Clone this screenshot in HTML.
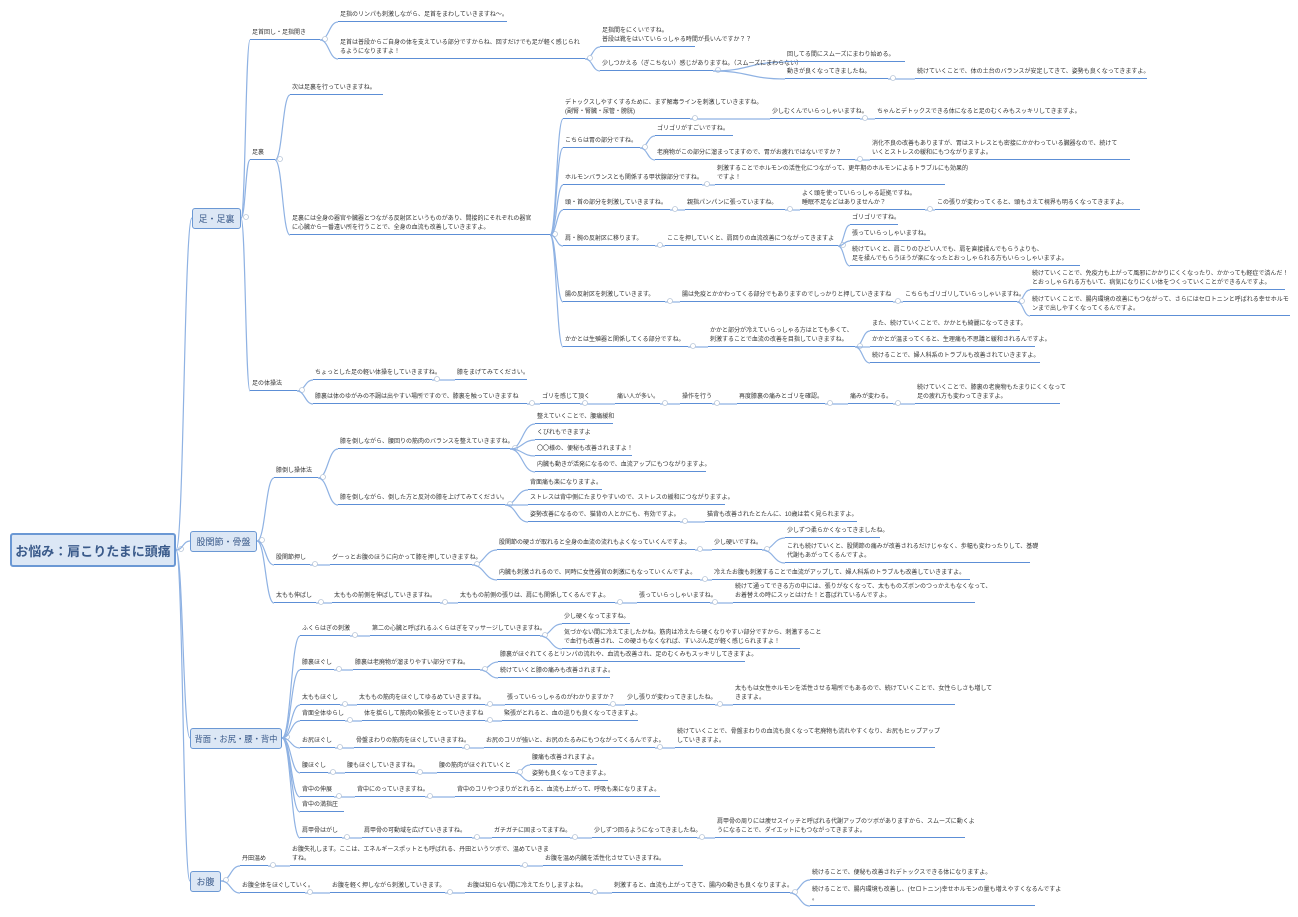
<!DOCTYPE html>
<html><head><meta charset="utf-8">
<style>
html,body{margin:0;padding:0;background:#fff;}
#c{position:relative;width:1298px;height:917px;overflow:hidden;font-family:"Liberation Sans","Noto Sans CJK JP",sans-serif;color:#333;}
.n{position:absolute;transform:translateY(-100%);font-size:6px;line-height:9px;padding:0 0 1px 2px;border-bottom:1.6px solid #5d8fd6;white-space:nowrap;box-sizing:border-box;}
.b{position:absolute;background:#dce7f5;border:1.5px solid #6b98d4;border-radius:3px;color:#3a5a8a;font-size:9px;display:flex;align-items:center;justify-content:center;box-sizing:border-box;white-space:nowrap;}
svg{position:absolute;left:0;top:0;}
</style></head><body><div id="c">
<svg id="s" width="1298" height="917"></svg>
<div class="b" style="left:10px;top:533px;width:166px;height:34px;font-size:13px;font-weight:bold;border-width:2px;">お悩み：肩こりたまに頭痛</div>
<div class="b" style="left:192px;top:208px;width:49px;height:21px;">足・足裏</div>
<div class="b" style="left:190px;top:531px;width:67px;height:21px;">股関節・骨盤</div>
<div class="b" style="left:190px;top:728px;width:92px;height:21px;font-size:8.3px;">背面・お尻・腰・背中</div>
<div class="b" style="left:190px;top:871px;width:31px;height:21px;">お腹</div>

<div class="n" style="left:250px;top:40px;width:70px">足首回し・足指開き</div>
<div class="n" style="left:250px;top:160px;width:25px">足裏</div>
<div class="n" style="left:250px;top:391px;width:47px">足の体操法</div>
<div class="n" style="left:338px;top:22px;width:169px">足指のリンパも刺激しながら、足首をまわしていきますね〜。</div>
<div class="n" style="left:338px;top:59px;width:247px">足首は普段からご自身の体を支えている部分ですからね、回すだけでも足が軽く感じられ<br>るようになりますよ！</div>
<div class="n" style="left:600px;top:47px;width:95px">足指間をにくいですね。<br>普段は靴をはいていらっしゃる時間が長いんですか？？</div>
<div class="n" style="left:600px;top:71px;width:113px">少しつかえる（ぎこちない）感じがありますね。（スムーズにまわらない）</div>
<div class="n" style="left:785px;top:62px;width:120px">回してる間にスムーズにまわり始める。</div>
<div class="n" style="left:785px;top:79px;width:103px">動きが良くなってきましたね。</div>
<div class="n" style="left:915px;top:79px;width:232px">続けていくことで、体の土台のバランスが安定してきて、姿勢も良くなってきますよ。</div>

<div class="n" style="left:290px;top:95px;width:93px">次は足裏を行っていきますね。</div>
<div class="n" style="left:290px;top:235px;width:260px">足裏には全身の器官や臓器とつながる反射区というものがあり、間接的にそれぞれの器官<br>に心臓から一番遠い所を行うことで、全身の血流も改善していきますよ。</div>
<div class="n" style="left:563px;top:119px;width:127px">デトックスしやすくするために、まず解毒ラインを刺激していきますね。<br>(副腎・腎臓・尿管・膀胱)</div>
<div class="n" style="left:770px;top:119px;width:90px">少しむくんでいらっしゃいますね。</div>
<div class="n" style="left:875px;top:119px;width:195px">ちゃんとデトックスできる体になると足のむくみもスッキリしてきますよ。</div>
<div class="n" style="left:563px;top:148px;width:77px">こちらは胃の部分ですね。</div>
<div class="n" style="left:655px;top:136px;width:78px">ゴリゴリがすごいですね。</div>
<div class="n" style="left:655px;top:160px;width:200px">老廃物がこの部分に溜まってますので、胃がお疲れではないですか？</div>
<div class="n" style="left:870px;top:160px;width:260px">消化不良の改善もありますが、胃はストレスとも密接にかかわっている臓器なので、続けて<br>いくとストレスの緩和にもつながりますよ。</div>
<div class="n" style="left:563px;top:185px;width:139px">ホルモンバランスとも関係する甲状腺部分ですね。</div>
<div class="n" style="left:715px;top:185px;width:230px">刺激することでホルモンの活性化につながって、更年期のホルモンによるトラブルにも効果的<br>ですよ！</div>
<div class="n" style="left:563px;top:210px;width:107px">頭・首の部分を刺激していきますね。</div>
<div class="n" style="left:685px;top:210px;width:100px">親指パンパンに張っていますね。</div>
<div class="n" style="left:800px;top:210px;width:125px">よく頭を使っていらっしゃる証拠ですね。<br>睡眠不足などはありませんか？</div>
<div class="n" style="left:935px;top:210px;width:205px">この張りが変わってくると、頭もさえて視界も明るくなってきますよ。</div>
<div class="n" style="left:563px;top:246px;width:92px">肩・腕の反射区に移ります。</div>
<div class="n" style="left:665px;top:246px;width:173px">ここを押していくと、肩回りの血流改善につながってきますよ</div>
<div class="n" style="left:850px;top:225px;width:48px">ゴリゴリですね。</div>
<div class="n" style="left:850px;top:241px;width:80px">張っていらっしゃいますね。</div>
<div class="n" style="left:850px;top:266px;width:230px">続けていくと、肩こりのひどい人でも、肩を直接揉んでもらうよりも、<br>足を揉んでもらうほうが楽になったとおっしゃられる方もいらっしゃいますよ。</div>
<div class="n" style="left:563px;top:302px;width:102px">腸の反射区を刺激していきます。</div>
<div class="n" style="left:680px;top:302px;width:213px">腸は免疫とかかわってくる部分でもありますのでしっかりと押していきますね</div>
<div class="n" style="left:903px;top:302px;width:114px">こちらもゴリゴリしていらっしゃいますね。</div>
<div class="n" style="left:1030px;top:290px;width:255px">続けていくことで、免疫力も上がって風邪にかかりにくくなったり、かかっても軽症で済んだ！<br>とおっしゃられる方もいて、病気になりにくい体をつくっていくことができるんですよ。</div>
<div class="n" style="left:1030px;top:316px;width:260px">続けていくことで、腸内環境の改善にもつながって、さらにはセロトニンと呼ばれる幸せホルモ<br>ンまで出しやすくなってくるんですよ。</div>
<div class="n" style="left:563px;top:347px;width:125px">かかとは生殖器と関係してくる部分ですね。</div>
<div class="n" style="left:708px;top:347px;width:147px">かかと部分が冷えていらっしゃる方はとても多くて、<br>刺激することで血流の改善を目指していきますね。</div>
<div class="n" style="left:870px;top:331px;width:150px">また、続けていくことで、かかとも綺麗になってきます。</div>
<div class="n" style="left:870px;top:347px;width:165px">かかとが温まってくると、生理痛も不思議と緩和されるんですよ。</div>
<div class="n" style="left:870px;top:363px;width:170px">続けることで、婦人科系のトラブルも改善されていきますよ。</div>

<div class="n" style="left:313px;top:380px;width:119px">ちょっとした足の軽い体操をしていきますね。</div>
<div class="n" style="left:455px;top:380px;width:72px">膝をまげてみてください。</div>
<div class="n" style="left:313px;top:404px;width:214px">膝裏は体のゆがみの不調は出やすい場所ですので、膝裏を触っていきますね</div>
<div class="n" style="left:540px;top:404px;width:40px">ゴリを感じて頂く</div>
<div class="n" style="left:615px;top:404px;width:45px">痛い人が多い。</div>
<div class="n" style="left:680px;top:404px;width:32px">操作を行う</div>
<div class="n" style="left:737px;top:404px;width:88px">再度膝裏の痛みとゴリを確認。</div>
<div class="n" style="left:848px;top:404px;width:45px">痛みが変わる。</div>
<div class="n" style="left:915px;top:404px;width:145px">続けていくことで、膝裏の老廃物もたまりにくくなって<br>足の疲れ方も変わってきますよ。</div>

<div class="n" style="left:274px;top:478px;width:44px">膝倒し操体法</div>
<div class="n" style="left:274px;top:565px;width:36px">股関節押し</div>
<div class="n" style="left:274px;top:603px;width:42px">太もも伸ばし</div>
<div class="n" style="left:338px;top:449px;width:172px">膝を倒しながら、腰回りの筋肉のバランスを整えていきますね。</div>
<div class="n" style="left:535px;top:424px;width:78px">整えていくことで、腰痛緩和</div>
<div class="n" style="left:535px;top:440px;width:50px">くびれもできますよ</div>
<div class="n" style="left:535px;top:456px;width:97px">〇〇様の、便秘も改善されますよ！</div>
<div class="n" style="left:535px;top:472px;width:171px">内臓も動きが活発になるので、血流アップにもつながりますよ。</div>
<div class="n" style="left:338px;top:505px;width:167px">膝を倒しながら、倒した方と反対の膝を上げてみてください。</div>
<div class="n" style="left:528px;top:490px;width:74px">背面痛も楽になりますよ。</div>
<div class="n" style="left:528px;top:505px;width:197px">ストレスは背中側にたまりやすいので、ストレスの緩和につながりますよ。</div>
<div class="n" style="left:528px;top:522px;width:152px">姿勢改善になるので、猫背の人とかにも、有効ですよ。</div>
<div class="n" style="left:705px;top:522px;width:152px">猫背も改善されたとたんに、10歳は若く見られますよ。</div>
<div class="n" style="left:330px;top:565px;width:142px">グーっとお腹のほうに向かって膝を押していきますね。</div>
<div class="n" style="left:497px;top:550px;width:198px">股関節の硬さが取れると全身の血流の流れもよくなっていくんですよ。</div>
<div class="n" style="left:712px;top:550px;width:50px">少し硬いですね。</div>
<div class="n" style="left:785px;top:538px;width:95px">少しずつ柔らかくなってきましたね。</div>
<div class="n" style="left:785px;top:563px;width:245px">これも続けていくと、股関節の痛みが改善されるだけじゃなく、歩幅も変わったりして、基礎<br>代謝もあがってくるんですよ。</div>
<div class="n" style="left:497px;top:580px;width:203px">内臓も刺激されるので、同時に女性器官の刺激にもなっていくんですよ。</div>
<div class="n" style="left:712px;top:580px;width:258px">冷えたお腹も刺激することで血流がアップして、婦人科系のトラブルも改善していきますよ。</div>
<div class="n" style="left:332px;top:603px;width:108px">太ももの前側を伸ばしていきますね。</div>
<div class="n" style="left:458px;top:603px;width:157px">太ももの前側の張りは、肩にも関係してくるんですよ。</div>
<div class="n" style="left:637px;top:603px;width:73px">張っていらっしゃいますね。</div>
<div class="n" style="left:733px;top:603px;width:242px">続けて通ってできる方の中には、張りがなくなって、太もものズボンのつっかえもなくなって、<br>お着替えの時にスッとはけた！と喜ばれているんですよ。</div>

<div class="n" style="left:300px;top:636px;width:50px">ふくらはぎの刺激</div>
<div class="n" style="left:370px;top:636px;width:170px">第二の心臓と呼ばれるふくらはぎをマッサージしていきますね。</div>
<div class="n" style="left:562px;top:624px;width:68px">少し硬くなってますね。</div>
<div class="n" style="left:562px;top:649px;width:238px">気づかない間に冷えてましたかね。筋肉は冷えたら硬くなりやすい部分ですから、刺激すること<br>で血行も改善され、この硬さもなくなれば、すいぶん足が軽く感じられますよ！</div>
<div class="n" style="left:300px;top:670px;width:34px">膝裏ほぐし</div>
<div class="n" style="left:353px;top:670px;width:127px">膝裏は老廃物が溜まりやすい部分ですね。</div>
<div class="n" style="left:498px;top:662px;width:247px">膝裏がほぐれてくるとリンパの流れや、血流も改善され、足のむくみもスッキリしてきますよ。</div>
<div class="n" style="left:498px;top:678px;width:112px">続けていくと膝の痛みも改善されますよ。</div>
<div class="n" style="left:300px;top:705px;width:40px">太ももほぐし</div>
<div class="n" style="left:357px;top:705px;width:128px">太ももの筋肉をほぐしてゆるめていきますね。</div>
<div class="n" style="left:505px;top:705px;width:103px">張っていらっしゃるのがわかりますか？</div>
<div class="n" style="left:625px;top:705px;width:90px">少し張りが変わってきましたね。</div>
<div class="n" style="left:733px;top:705px;width:222px">太ももは女性ホルモンを活性させる場所でもあるので、続けていくことで、女性らしさも増して<br>きますよ。</div>
<div class="n" style="left:300px;top:721px;width:45px">背面全体ゆらし</div>
<div class="n" style="left:362px;top:721px;width:123px">体を揺らして筋肉の緊張をとっていきますね</div>
<div class="n" style="left:502px;top:721px;width:136px">緊張がとれると、血の巡りも良くなってきますよ。</div>
<div class="n" style="left:300px;top:748px;width:35px">お尻ほぐし</div>
<div class="n" style="left:354px;top:748px;width:108px">骨盤まわりの筋肉をほぐしていきますね。</div>
<div class="n" style="left:484px;top:748px;width:171px">お尻のコリが強いと、お尻のたるみにもつながってくるんですよ。</div>
<div class="n" style="left:675px;top:748px;width:260px">続けていくことで、骨盤まわりの血流も良くなって老廃物も流れやすくなり、お尻もヒップアップ<br>していきますよ。</div>
<div class="n" style="left:300px;top:773px;width:28px">腰ほぐし</div>
<div class="n" style="left:345px;top:773px;width:70px">腰もほぐしていきますね。</div>
<div class="n" style="left:437px;top:773px;width:78px">腰の筋肉がほぐれていくと</div>
<div class="n" style="left:530px;top:765px;width:67px">腰痛も改善されますよ。</div>
<div class="n" style="left:530px;top:781px;width:78px">姿勢も良くなってきますよ。</div>
<div class="n" style="left:300px;top:797px;width:34px">背中の伸展</div>
<div class="n" style="left:355px;top:797px;width:70px">背中にのっていきますね。</div>
<div class="n" style="left:455px;top:797px;width:205px">背中のコリやつまりがとれると、血流も上がって、呼吸も楽になりますよ。</div>
<div class="n" style="left:300px;top:812px;width:44px">背中の満指圧</div>
<div class="n" style="left:300px;top:838px;width:42px">肩甲骨はがし</div>
<div class="n" style="left:362px;top:838px;width:110px">肩甲骨の可動域を広げていきますね。</div>
<div class="n" style="left:492px;top:838px;width:78px">ガチガチに固まってますね。</div>
<div class="n" style="left:592px;top:838px;width:105px">少しずつ回るようになってきましたね。</div>
<div class="n" style="left:715px;top:838px;width:250px">肩甲骨の周りには痩せスイッチと呼ばれる代謝アップのツボがありますから、スムーズに動くよ<br>うになることで、ダイエットにもつながってきますよ。</div>

<div class="n" style="left:240px;top:866px;width:28px">丹田温め</div>
<div class="n" style="left:290px;top:866px;width:230px">お腹失礼します。ここは、エネルギースポットとも呼ばれる、丹田というツボで、温めていきま<br>すね。</div>
<div class="n" style="left:543px;top:866px;width:140px">お腹を温め内臓を活性化させていきますね。</div>
<div class="n" style="left:240px;top:893px;width:65px">お腹全体をほぐしていく。</div>
<div class="n" style="left:330px;top:893px;width:115px">お腹を軽く押しながら刺激していきます。</div>
<div class="n" style="left:465px;top:893px;width:125px">お腹は知らない間に冷えてたりしますよね。</div>
<div class="n" style="left:612px;top:893px;width:178px">刺激すると、血流も上がってきて、腸内の動きも良くなりますよ。</div>
<div class="n" style="left:810px;top:880px;width:175px">続けることで、便秘も改善されデトックスできる体になりますよ。</div>
<div class="n" style="left:810px;top:906px;width:225px">続けることで、腸内環境も改善し、(セロトニン)幸せホルモンの量も増えやすくなるんですよ<br>。</div>
</div>
<script>
var E=[
[176,550,192,218],[176,550,190,541],[176,550,190,738],[176,550,190,881],
[241,218,250,40],[241,218,250,160],[241,218,250,391],
[320,40,338,22],[320,40,338,59],[585,59,600,47],[585,59,600,71],[713,71,785,62],[713,71,785,79],[888,79,915,79],
[275,160,290,95],[275,160,290,235],
[550,235,563,119],[550,235,563,148],[550,235,563,185],[550,235,563,210],[550,235,563,246],[550,235,563,302],[550,235,563,347],
[690,119,770,119],[860,119,875,119],[640,148,655,136],[640,148,655,160],[855,160,870,160],[702,185,715,185],
[670,210,685,210],[785,210,800,210],[925,210,935,210],
[655,246,665,246],[838,246,850,225],[838,246,850,241],[838,246,850,266],
[665,302,680,302],[893,302,903,302],[1017,302,1030,290],[1017,302,1030,316],
[688,347,708,347],[855,347,870,331],[855,347,870,347],[855,347,870,363],
[297,391,313,380],[297,391,313,404],[432,380,455,380],[527,404,540,404],[580,404,615,404],[660,404,680,404],[712,404,737,404],[825,404,848,404],[893,404,915,404],
[257,541,274,478],[257,541,274,565],[257,541,274,603],
[318,478,338,449],[318,478,338,505],[510,449,535,424],[510,449,535,440],[510,449,535,456],[510,449,535,472],
[505,505,528,490],[505,505,528,505],[505,505,528,522],[680,522,705,522],
[310,565,330,565],[472,565,497,550],[472,565,497,580],[695,550,712,550],[762,550,785,538],[762,550,785,563],[700,580,712,580],
[316,603,332,603],[440,603,458,603],[615,603,637,603],[710,603,733,603],
[282,738,300,636],[282,738,300,670],[282,738,300,705],[282,738,300,721],[282,738,300,748],[282,738,300,773],[282,738,300,797],[282,738,300,812],[282,738,300,838],
[350,636,370,636],[540,636,562,624],[540,636,562,649],
[334,670,353,670],[480,670,498,662],[480,670,498,678],
[340,705,357,705],[485,705,505,705],[608,705,625,705],[715,705,733,705],
[345,721,362,721],[485,721,502,721],
[335,748,354,748],[462,748,484,748],[655,748,675,748],
[328,773,345,773],[415,773,437,773],[515,773,530,765],[515,773,530,781],
[334,797,355,797],[425,797,455,797],
[342,838,362,838],[472,838,492,838],[570,838,592,838],[697,838,715,838],
[221,881,240,866],[221,881,240,893],
[268,866,290,866],[520,866,543,866],
[305,893,330,893],[445,893,465,893],[590,893,612,893],[790,893,810,880],[790,893,810,906]];
var s='',seen={};
E.forEach(function(e){var m=(e[0]+e[2])/2;
s+='<path d="M'+e[0]+' '+e[1]+' C'+m+' '+e[1]+' '+m+' '+e[3]+' '+e[2]+' '+e[3]+'" fill="none" stroke="#8fb2e3" stroke-width="1.2"/>';
var k=e[0]+','+e[1];if(!seen[k]){seen[k]=1;s+='<circle cx="'+(e[0]+5)+'" cy="'+(e[1]-1)+'" r="2.5" fill="#fff" stroke="#b8c6d8" stroke-width="0.8"/>';}
});
document.getElementById('s').innerHTML=s;
</script>
</body></html>
